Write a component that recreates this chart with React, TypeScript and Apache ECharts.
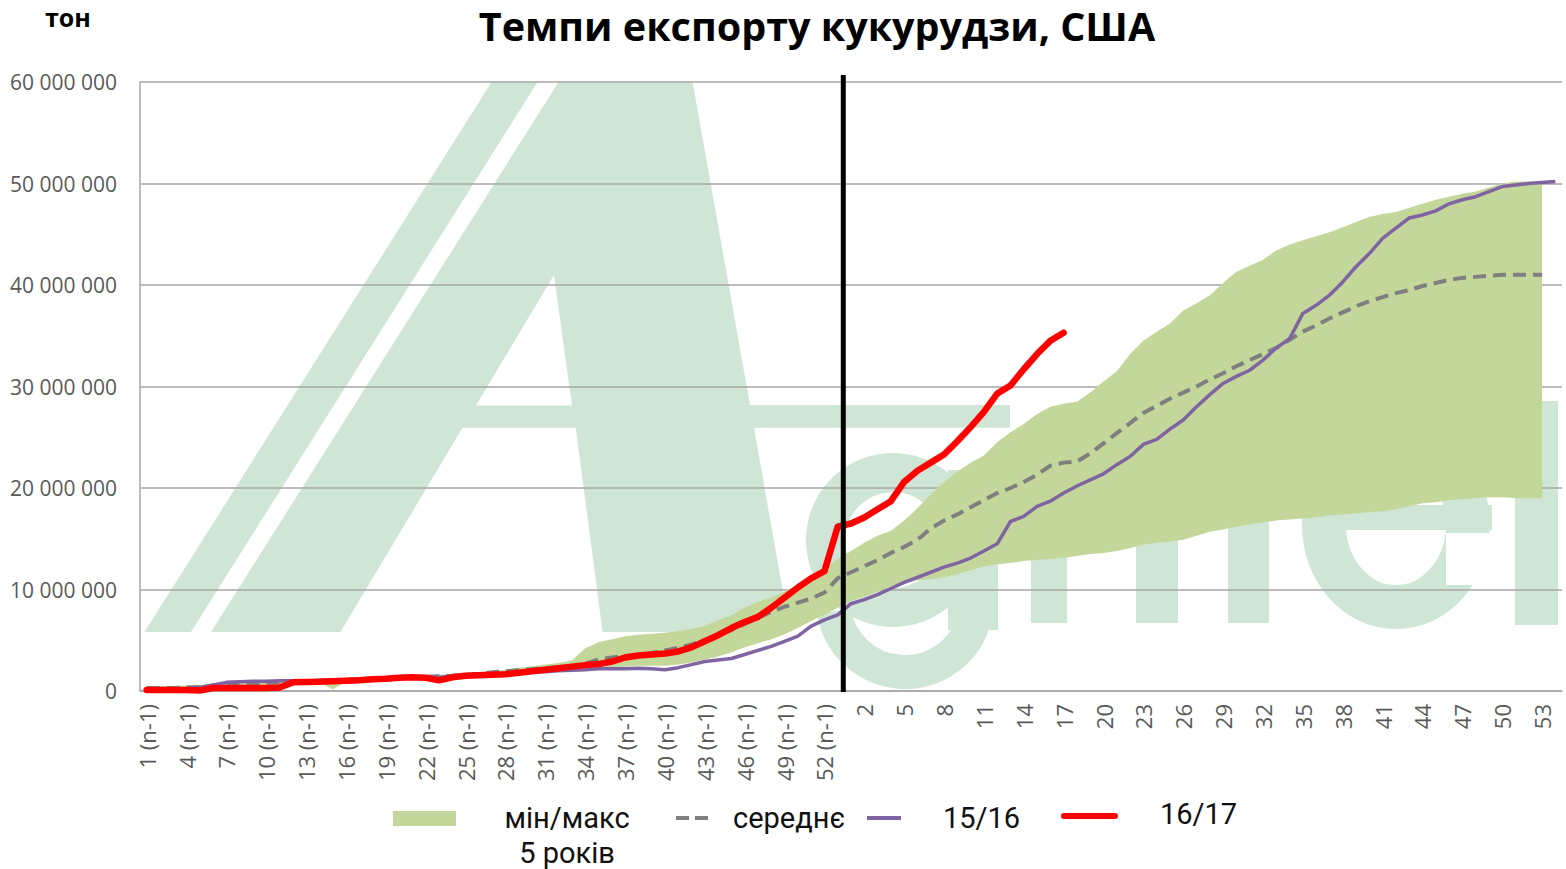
import React, { useEffect, useRef } from "react";
import * as echarts from "echarts";

// ---- Categories: weeks of previous year (n-1) and current marketing year ----
const PREV_WEEKS: number[] = Array.from({ length: 53 }, (_, i) => i + 1);
const CUR_WEEKS: number[] = Array.from({ length: 54 }, (_, i) => i + 1);
const CATEGORIES: string[] = [
  ...PREV_WEEKS.map((w) => `${w} (n-1)`),
  ...CUR_WEEKS.map((w) => String(w)),
];

// ---- Values in million tonnes ----
const MIN_5Y: number[] = [
  0.1, 0.1, 0.1, 0.1, 0.05, 0.2, 0.25, 0.3, 0.3, 0.3,
  0.35, 0.6, 0.8, 0.85, 0.15, 0.95, 1.0, 1.05, 1.1, 1.15,
  1.2, 1.1, 1.05, 1.25, 1.4, 1.45, 1.5, 1.6, 1.65, 1.75,
  1.8, 1.9, 1.95, 2.0, 2.2, 2.3, 2.4, 2.5, 2.5, 2.5,
  2.6, 2.8, 3.1, 3.4, 3.8, 4.3, 4.7, 5.1, 5.6, 6.2,
  6.9, 7.5, 8.2, 8.9, 9.3, 9.8, 10.3, 10.6, 10.9, 11.0,
  11.2, 11.5, 11.9, 12.3, 12.5, 12.6, 12.8, 12.9, 13.0, 13.1,
  13.3, 13.5, 13.6, 13.8, 14.1, 14.4, 14.6, 14.7, 14.9, 15.3,
  15.7, 15.9, 16.2, 16.4, 16.6, 16.8, 16.9, 17.0, 17.1, 17.3,
  17.4, 17.5, 17.6, 17.7, 17.9, 18.2, 18.5, 18.6, 18.8, 18.9,
  19.0, 19.1, 19.1, 19.0, 19.0, 19.0,
];
const MAX_5Y: number[] = [
  0.5, 0.5, 0.5, 0.55, 0.6, 0.75, 0.9, 0.95, 1.0, 1.0,
  1.05, 1.05, 1.1, 1.1, 1.15, 1.2, 1.3, 1.35, 1.4, 1.45,
  1.5, 1.55, 1.6, 1.65, 1.75, 1.85, 1.95, 2.1, 2.3, 2.45,
  2.6, 2.75, 3.0, 4.2, 4.8, 5.1, 5.4, 5.55, 5.65, 5.75,
  5.9, 6.1, 6.4, 7.0, 7.5, 8.2, 8.8, 9.2, 9.8, 10.5,
  11.2, 12.0, 13.0, 13.8, 14.6, 15.3, 15.8, 16.8, 18.0, 19.4,
  20.6, 21.6, 22.5, 23.2, 24.5, 25.5, 26.3, 27.3, 28.0, 28.3,
  28.5, 29.4, 30.5, 31.5, 33.2, 34.5, 35.4, 36.2, 37.5, 38.2,
  39.0, 40.2, 41.3, 41.9, 42.5, 43.4, 44.0, 44.4, 44.8, 45.2,
  45.7, 46.2, 46.7, 47.0, 47.2, 47.6, 48.0, 48.4, 48.7, 49.0,
  49.2, 49.6, 50.0, 50.2, 50.2, 50.2,
];
const MEAN_5Y: number[] = [
  0.3, 0.3, 0.3, 0.35, 0.4, 0.5, 0.6, 0.7, 0.75, 0.8,
  0.85, 0.9, 0.95, 1.0, 1.05, 1.1, 1.15, 1.2, 1.25, 1.3,
  1.35, 1.4, 1.45, 1.5, 1.6, 1.7, 1.85, 1.95, 2.05, 2.15,
  2.25, 2.35, 2.45, 2.7, 3.1, 3.3, 3.45, 3.55, 3.75, 4.0,
  4.25, 4.6, 5.0, 5.5, 6.0, 6.6, 7.2, 7.8, 8.3, 8.7,
  9.1, 9.7, 11.1, 11.7, 12.3, 12.9, 13.6, 14.2, 14.9, 16.0,
  16.8, 17.4, 18.1, 18.8, 19.5, 20.0, 20.6, 21.3, 22.2, 22.5,
  22.6, 23.4, 24.4, 25.4, 26.4, 27.4, 28.1, 28.8, 29.4, 30.0,
  30.7, 31.3, 32.0, 32.6, 33.2, 33.8, 34.6, 35.4, 36.0, 36.7,
  37.3, 37.9, 38.4, 38.8, 39.2, 39.5, 39.9, 40.2, 40.5, 40.7,
  40.8, 40.9, 41.0, 41.0, 41.0, 41.0,
];
const SEASON_15_16: number[] = [
  0.2, 0.2, 0.2, 0.25, 0.35, 0.6, 0.85, 0.9, 0.95, 0.95,
  1.0, 1.0, 1.0, 1.05, 1.1, 1.1, 1.15, 1.15, 1.2, 1.25,
  1.3, 1.35, 1.35, 1.45, 1.5, 1.55, 1.6, 1.7, 1.75, 1.85,
  1.9, 2.0, 2.05, 2.1, 2.2, 2.2, 2.2, 2.25, 2.2, 2.1,
  2.3, 2.6, 2.9, 3.05, 3.2, 3.6, 4.0, 4.4, 4.9, 5.4,
  6.4, 7.0, 7.5, 8.6, 9.0, 9.5, 10.1, 10.7, 11.2, 11.7,
  12.2, 12.6, 13.1, 13.8, 14.5, 16.7, 17.2, 18.2, 18.7, 19.5,
  20.2, 20.8, 21.4, 22.3, 23.1, 24.3, 24.8, 25.8, 26.7, 28.0,
  29.2, 30.3, 31.0, 31.6, 32.6, 33.8, 34.7, 37.2, 38.0, 39.0,
  40.3, 41.8, 43.1, 44.6, 45.6, 46.6, 46.9, 47.3, 48.0, 48.4,
  48.7, 49.2, 49.7, 49.85, 50.0, 50.1, 50.2,
];
const SEASON_16_17: number[] = [
  0.1, 0.1, 0.1, 0.1, 0.05, 0.3, 0.3, 0.3, 0.3, 0.3,
  0.35, 0.85, 0.88, 0.9, 0.95, 1.0, 1.05, 1.15, 1.2, 1.3,
  1.35, 1.3, 1.05, 1.35, 1.5, 1.55, 1.6, 1.65, 1.8, 1.95,
  2.1, 2.25, 2.4, 2.55, 2.65, 2.9, 3.3, 3.5, 3.6, 3.7,
  3.9, 4.3, 4.9, 5.5, 6.2, 6.8, 7.3, 8.2, 9.2, 10.2,
  11.1, 11.8, 16.2, 16.5, 17.1, 17.9, 18.7, 20.6, 21.7, 22.5,
  23.3, 24.6, 26.0, 27.5, 29.3, 30.1, 31.7, 33.2, 34.5, 35.3,
];

const UNIT = 1000000;
const Y_MAX = 60000000;
const Y_STEP = 10000000;
const MARKETING_YEAR_START = 52; // index of "53 (n-1)"

const TITLE = "Темпи експорту кукурудзи, США";
const Y_UNIT = "тон";
const LEGEND_BAND = "мін/макс";
const LEGEND_BAND_2 = "5 років";
const LEGEND_MEAN = "середнє";
const LEGEND_15 = "15/16";
const LEGEND_16 = "16/17";

const C_BAND = "#c4d79b";
const C_MEAN = "#7f7f7f";
const C_PURPLE = "#8064a2";
const C_RED = "#ff0000";
const C_WM = "#cfe6d6";
const C_GRID = "#a6a6a6";

const toT = (arr: number[]) => arr.map((v) => Math.round(v * UNIT));

function fmt(v: number): string {
  return String(v).replace(/\B(?=(\d{3})+(?!\d))/g, " ");
}

function watermark(): any[] {
  const st = { fill: C_WM };
  const z = -10;
  return [
    { id: "wm1", type: "polygon", z, silent: true, shape: { points: [[144.5, 632], [191, 632], [537.6, 82], [491.6, 82]] }, style: st },
    {
      id: "wmA", type: "polygon", z, silent: true,
      shape: {
        points: [
          [211, 632], [558.6, 82], [692.6, 82], [750, 405], [1010, 405], [1010, 427.8],
          [754, 427.8], [790, 632], [602.6, 632], [575.8, 427.8], [462.5, 427.8], [340.5, 632],
        ],
      },
      style: st,
    },
    { id: "wmAh", type: "polygon", z: -9, silent: true, shape: { points: [[554, 275], [476, 405.6], [572, 405.6]] }, style: { fill: "#ffffff" } },
    { id: "wmg1", type: "ring", z, silent: true, shape: { cx: 893, cy: 540, r: 87, r0: 48 }, style: st },
    { id: "wmg2", type: "rect", z, silent: true, shape: { x: 948, y: 470, width: 50, height: 160 }, style: st },
    {
      id: "wmg3", type: "arc", z, silent: true,
      shape: { cx: 905, cy: 600, r: 72, startAngle: 0.1 * Math.PI, endAngle: 0.95 * Math.PI, clockwise: true },
      style: { stroke: C_WM, lineWidth: 34, fill: "none" },
    },
    { id: "wmm1", type: "rect", z, silent: true, shape: { x: 1031, y: 500, width: 36, height: 123 }, style: st },
    { id: "wmm2", type: "rect", z, silent: true, shape: { x: 1136, y: 500, width: 42, height: 123 }, style: st },
    { id: "wmm3", type: "rect", z, silent: true, shape: { x: 1228, y: 500, width: 41, height: 123 }, style: st },
    {
      id: "wme1", type: "ellipse", z, silent: true,
      shape: { cx: 1396, cy: 525, rx: 72, ry: 82 },
      style: { stroke: C_WM, lineWidth: 44, fill: "none" },
    },
    { id: "wme2", type: "rect", z, silent: true, shape: { x: 1346, y: 505, width: 146, height: 25 }, style: st },
    { id: "wme3", type: "rect", z: -9, silent: true, shape: { x: 1446, y: 533, width: 56, height: 52 }, style: { fill: "#ffffff" } },
    { id: "wml", type: "rect", z, silent: true, shape: { x: 1515, y: 401, width: 43, height: 224 }, style: st },
  ];
}

function legendAndLabels(): any[] {
  const font = "29px Roboto";
  const fill = "#111111";
  return [
    { id: "unit", type: "text", z: 50, style: { text: Y_UNIT, x: 45, y: 17, font: "bold 25px 'Open Sans'", fill: "#000", textAlign: "left", textVerticalAlign: "middle" } },
    { id: "lg1", type: "rect", z: 50, shape: { x: 393, y: 811, width: 63, height: 15 }, style: { fill: C_BAND } },
    { id: "lg1t", type: "text", z: 50, style: { text: LEGEND_BAND, x: 567, y: 818, font, fill, textAlign: "center", textVerticalAlign: "middle" } },
    { id: "lg1t2", type: "text", z: 50, style: { text: LEGEND_BAND_2, x: 567, y: 853, font, fill, textAlign: "center", textVerticalAlign: "middle" } },
    { id: "lg2", type: "line", z: 50, shape: { x1: 676, y1: 818, x2: 708, y2: 818 }, style: { stroke: C_MEAN, lineWidth: 4, lineDash: [13, 6] } },
    { id: "lg2t", type: "text", z: 50, style: { text: LEGEND_MEAN, x: 733, y: 818, font, fill, textAlign: "left", textVerticalAlign: "middle" } },
    { id: "lg3", type: "line", z: 50, shape: { x1: 867, y1: 818, x2: 901, y2: 818 }, style: { stroke: C_PURPLE, lineWidth: 4 } },
    { id: "lg3t", type: "text", z: 50, style: { text: LEGEND_15, x: 943, y: 818, font, fill, textAlign: "left", textVerticalAlign: "middle" } },
    { id: "lg4", type: "line", z: 50, shape: { x1: 1064, y1: 816, x2: 1115, y2: 816 }, style: { stroke: C_RED, lineWidth: 6, lineCap: "round" } },
    { id: "lg4t", type: "text", z: 50, style: { text: LEGEND_16, x: 1160, y: 814, font, fill, textAlign: "left", textVerticalAlign: "middle" } },
  ];
}

export default function App() {
  const ref = useRef<HTMLDivElement>(null);

  useEffect(() => {
    if (!ref.current) return;
    const chart = echarts.init(ref.current, null, { renderer: "svg" });
    const minT = toT(MIN_5Y);
    const maxT = toT(MAX_5Y);
    const bandT = maxT.map((v, i) => v - minT[i]);

    const option: any = {
      animation: false,
      backgroundColor: "#ffffff",
      title: {
        text: TITLE,
        left: 812,
        top: 1,
        textAlign: "center",
        textStyle: { fontFamily: "'Open Sans'", fontWeight: "bold", fontSize: 39.5, color: "#000" },
      },
      grid: { left: 140, right: 4, top: 82, bottom: 178, containLabel: false },
      xAxis: {
        type: "category",
        data: CATEGORIES,
        boundaryGap: true,
        axisTick: { show: false },
        axisLine: { lineStyle: { color: C_GRID, width: 1.5 } },
        axisLabel: {
          interval: 2,
          rotate: 90,
          margin: 13,
          fontFamily: "'Open Sans'",
          fontSize: 22,
          color: "#595959",
        },
      },
      yAxis: {
        type: "value",
        min: 0,
        max: Y_MAX,
        interval: Y_STEP,
        axisLine: { show: true, lineStyle: { color: C_GRID, width: 1.5 } },
        axisTick: { show: false },
        splitLine: { lineStyle: { color: C_GRID, width: 1.5 } },
        axisLabel: {
          formatter: (v: number) => fmt(v),
          fontFamily: "'Open Sans'",
          fontSize: 21,
          color: "#595959",
          margin: 23,
        },
      },
      series: [
        {
          name: "min",
          type: "line",
          stack: "band",
          data: minT,
          symbol: "none",
          silent: true,
          lineStyle: { width: 0, opacity: 0 },
          z: 1,
        },
        {
          name: LEGEND_BAND,
          type: "line",
          stack: "band",
          data: bandT,
          symbol: "none",
          silent: true,
          lineStyle: { width: 0, opacity: 0 },
          areaStyle: { color: C_BAND, opacity: 1 },
          z: 1,
        },
        {
          name: LEGEND_MEAN,
          type: "line",
          data: toT(MEAN_5Y),
          symbol: "none",
          lineStyle: { color: C_MEAN, width: 4, type: [13, 7] },
          z: 3,
        },
        {
          name: LEGEND_15,
          type: "line",
          data: toT(SEASON_15_16),
          symbol: "none",
          lineStyle: { color: C_PURPLE, width: 3.5 },
          z: 4,
        },
        {
          name: LEGEND_16,
          type: "line",
          data: toT(SEASON_16_17),
          symbol: "none",
          lineStyle: { color: C_RED, width: 6.5, cap: "round", join: "round" },
          z: 5,
        },
      ],
      graphic: [...watermark(), ...legendAndLabels()],
    };

    chart.setOption(option);

    const xa = chart.convertToPixel({ xAxisIndex: 0 }, MARKETING_YEAR_START) as number;
    const xb = chart.convertToPixel({ xAxisIndex: 0 }, MARKETING_YEAR_START + 1) as number;
    const yTop = chart.convertToPixel({ yAxisIndex: 0 }, Y_MAX) as number;
    const yZero = chart.convertToPixel({ yAxisIndex: 0 }, 0) as number;
    const xl = xa + (xb - xa) * 0.42;

    chart.setOption({
      graphic: [
        ...watermark(),
        ...legendAndLabels(),
        {
          id: "yearLine",
          type: "line",
          z: 100,
          silent: true,
          shape: { x1: xl, y1: yTop - 7, x2: xl, y2: yZero + 1 },
          style: { stroke: "#000000", lineWidth: 5 },
        },
      ],
    });

    return () => {
      chart.dispose();
    };
  }, []);

  return (
    <div
      ref={ref}
      style={{ position: "fixed", left: 0, top: 0, width: 1566, height: 869, background: "#fff" }}
    />
  );
}
